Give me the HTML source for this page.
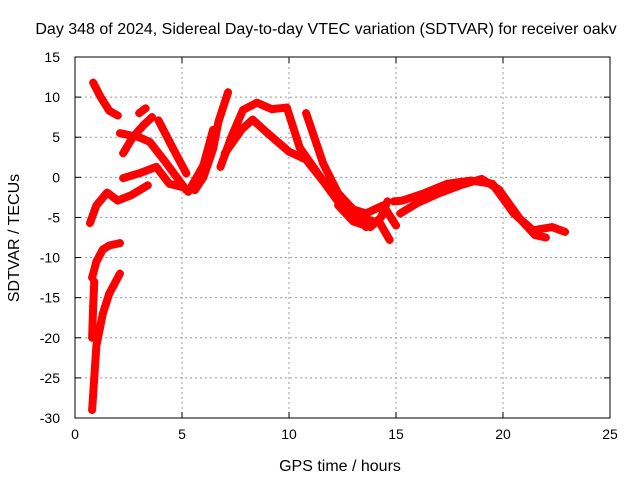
<!DOCTYPE html>
<html><head><meta charset="utf-8"><style>
body{margin:0;background:#fff}
svg{display:block;font-family:"Liberation Sans",sans-serif}
</style></head><body>
<svg id="chart" width="640" height="480">
<text x="326" y="34" font-size="16" text-anchor="middle">Day 348 of 2024, Sidereal Day-to-day VTEC variation (SDTVAR) for receiver oakv</text>
<text x="340" y="471" font-size="16" text-anchor="middle">GPS time / hours</text>
<text x="19" y="238" font-size="16" text-anchor="middle" transform="rotate(-90 19 238)">SDTVAR / TECUs</text>
<g id="grid"></g><g id="ticks"></g><g id="marks"></g>
<rect x="75" y="57" width="535" height="361" fill="none" stroke="#000" stroke-width="1"/>
</svg>
<script>
const xTicks=[0,5,10,15,20,25];
const yTicks=[15,10,5,0,-5,-10,-15,-20,-25,-30];
// series: hours and SDTVAR values per satellite track
const s1x=[0.85,1.2,1.6,2.0], s1y=[11.8,10,8.3,7.7];
const s2x=[0.8,0.9,1.0,1.3,1.6,2.1], s2y=[-29,-25,-21,-17,-14.5,-12];
const s3x=[0.8,0.85,0.9], s3y=[-20,-16,-13];
const s3bx=[0.8,1.0,1.3,1.6,2.1], s3by=[-12.5,-10.5,-9,-8.5,-8.2];
const s4x=[0.7,1.0,1.5,2.0,2.65,3.4], s4y=[-5.7,-3.5,-1.9,-2.9,-2.2,-1];
const s5x=[2.25,3.0,3.8,4.4,5.0], s5y=[-0.1,0.5,1.3,-0.8,-1.2];
const s6x=[2.25,2.7,3.2,3.6], s6y=[3,5,6.5,7.5];
const s7x=[2.1,3.0,3.5,4.2,5.2], s7y=[5.5,5,4.4,2,-1.6];
const s8x=[3.9,4.5,5.2], s8y=[7.1,4,0.5];
const s9x=[3.0,3.3], s9y=[8.0,8.6];
const s10x=[5.6,6.0,6.45,6.7,7.15], s10y=[-1.6,0,3.5,6.9,10.6];
const s11x=[5.3,6.0,6.45], s11y=[-1.8,1.5,5.9];
const s12x=[6.8,7.3,7.85,8.5,9.2,9.9,10.5,11.9,12.7,14.25,14.7], s12y=[1.3,5,8.4,9.3,8.5,8.7,3.7,-1.6,-4.5,-5.7,-7.8];
const s13x=[7.0,7.8,8.3,9.0,10.0,10.8,11.6,12.85,13.6], s13y=[3,6,7.2,5.5,3.2,2.2,-0.5,-3.7,-6.2];
const s14x=[10.8,11.6,12.3,13.0,13.6,14.4,15.0], s14y=[8,1.7,-2,-4,-4.5,-3.5,-6];
const s15x=[14.9,15.3,16.3,17.4,18.5,19.5,20.5,21.4,22.3,22.9], s15y=[-3,-2.9,-2,-0.8,-0.4,-0.8,-4.5,-6.6,-6.2,-6.8];
const s16x=[15.2,16.0,17.0,18.0,19.0,19.8,20.8,21.5,22.0], s16y=[-4.5,-3.2,-2,-1,-0.2,-1.5,-5.2,-7.2,-7.5];
const s17x=[12.3,13.0,13.8,14.3,14.6], s17y=[-3.5,-5.5,-6.2,-5,-3];
const seriesX=[s1x,s2x,s3x,s3bx,s4x,s5x,s6x,s7x,s8x,s9x,s10x,s11x,s12x,s13x,s14x,s15x,s16x,s17x];
const seriesY=[s1y,s2y,s3y,s3by,s4y,s5y,s6y,s7y,s8y,s9y,s10y,s11y,s12y,s13y,s14y,s15y,s16y,s17y];

const NS='http://www.w3.org/2000/svg';
const X0=75,X1=610,Y0=418,Y1=57;
function sx(h){return X0+(h-0)/(25-0)*(X1-X0);}
function sy(v){return Y0-(v+30)/(45)*(Y0-Y1);}
function el(t,a){const e=document.createElementNS(NS,t);for(const k in a)e.setAttribute(k,a[k]);return e;}
const grid=document.getElementById('grid'),ticks=document.getElementById('ticks'),marks=document.getElementById('marks');
xTicks.forEach(t=>{
  const x=sx(t);
  if(t>0&&t<25){const g=el('line',{x1:x,x2:x,y1:Y1,y2:Y0,stroke:'#999','stroke-dasharray':'2,3'});
  
  grid.appendChild(g);}
  ticks.appendChild(el('line',{x1:x,x2:x,y1:Y0,y2:Y0-6,stroke:'#000'}));
  ticks.appendChild(el('line',{x1:x,x2:x,y1:Y1,y2:Y1+6,stroke:'#000'}));
  const l=el('text',{x:x,y:Y0+21,'font-size':14,'text-anchor':'middle'});l.textContent=t;
  
  ticks.appendChild(l);
});
yTicks.forEach(t=>{
  const y=sy(t);
  if(t<15&&t>-30){const g=el('line',{x1:X0,x2:X1,y1:y,y2:y,stroke:'#999','stroke-dasharray':'2,3'});
  
  grid.appendChild(g);}
  ticks.appendChild(el('line',{x1:X0,x2:X0+6,y1:y,y2:y,stroke:'#000'}));
  ticks.appendChild(el('line',{x1:X1,x2:X1-6,y1:y,y2:y,stroke:'#000'}));
  const l=el('text',{x:X0-15,y:y+5,'font-size':14,'text-anchor':'end'});l.textContent=t;
  
  ticks.appendChild(l);
});
seriesX.forEach((xs,i)=>{
  const ys=seriesY[i];
  const pts=xs.map((h,j)=>sx(h)+','+sy(ys[j])).join(' ');
  const p=el('polyline',{points:pts,fill:'none',stroke:'#f00','stroke-width':8,'stroke-linejoin':'round','stroke-linecap':'round'});
  
  
  marks.appendChild(p);
  xs.forEach((h,j)=>{
    const cx=sx(h),cy=sy(ys[j]);
    const m=el('path',{d:`M${cx-4},${cy}H${cx+4}M${cx},${cy-4}V${cy+4}`,stroke:'#f00','stroke-width':1.5});
    
    
    marks.appendChild(m);
  });
});
</script>
</body></html>
